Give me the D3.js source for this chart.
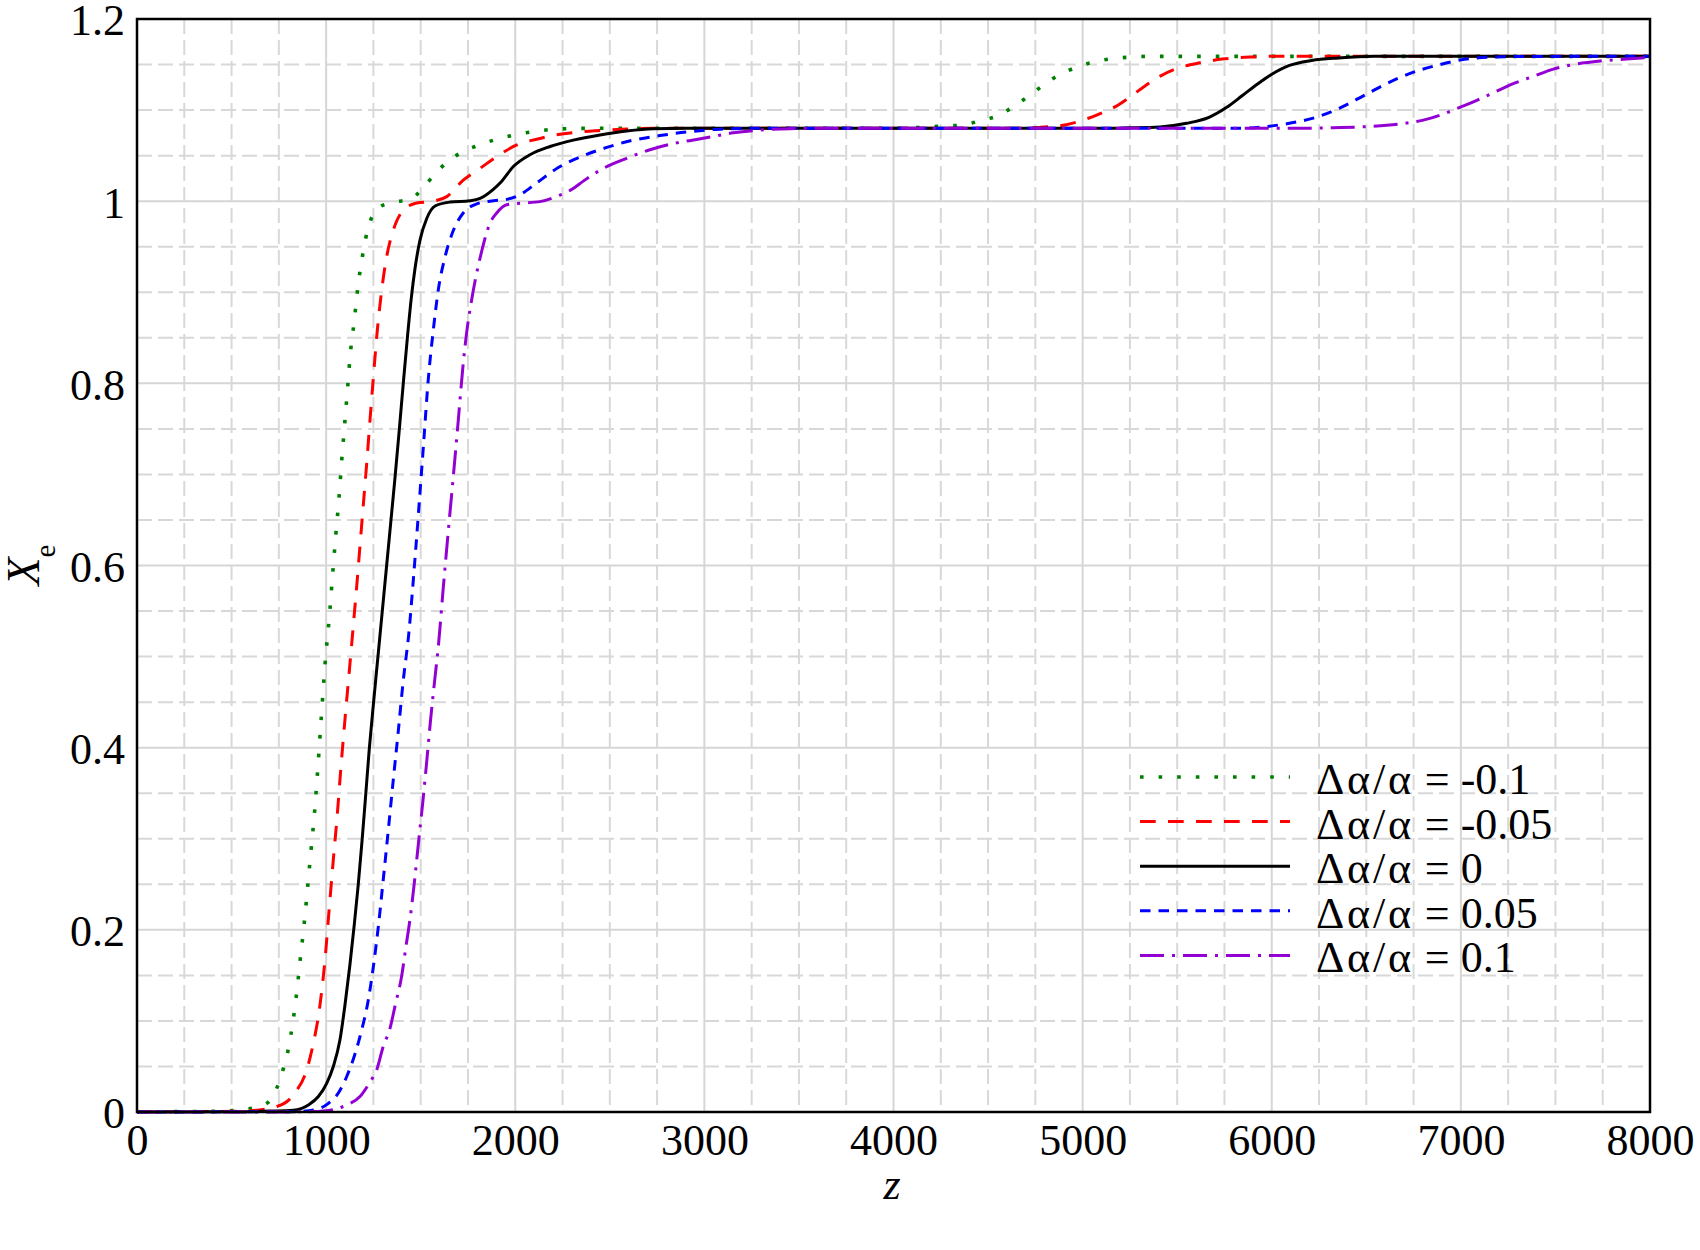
<!DOCTYPE html>
<html>
<head>
<meta charset="utf-8">
<script src="https://cdn.jsdelivr.net/npm/d3@7"></script>
<style>
  body { margin: 0; background: #fff; }
  svg text { font-family: "Liberation Serif", "Times New Roman", serif; fill: #000; }
</style>
</head>
<body>
<svg id="chart" width="1700" height="1250"></svg>
<script>
// ionization fraction X_e vs redshift z, for five values of da/a

const xTicks = [0, 1000, 2000, 3000, 4000, 5000, 6000, 7000, 8000]
const yTicks = [0, 0.2, 0.4, 0.6, 0.8, 1.0, 1.2]
const yTickLabels = ['0', '0.2', '0.4', '0.6', '0.8', '1', '1.2']

const seriesValues = ['-0.1', '-0.05', '0', '0.05', '0.1']

// [z, Xe]
const xeM010 = [[0,0.0003],[300,0.0005],[500,0.0015],[606,0.004],[686,0.0095],[739,0.026],[770,0.045],[795,0.064],[813,0.084],[841,0.125],[862,0.165],[883,0.205],[902,0.246],[920,0.287],[938,0.327],[953,0.368],[973,0.429],[994,0.491],[1020,0.551],[1035,0.592],[1051,0.633],[1068,0.674],[1082,0.714],[1098,0.755],[1114,0.796],[1130,0.837],[1142,0.857],[1153,0.877],[1163,0.897],[1175,0.917],[1190,0.937],[1207,0.957],[1232,0.977],[1278,0.993],[1359,0.999],[1445,1.002],[1514,1.015],[1572,1.029],[1634,1.042],[1703,1.052],[1800,1.061],[1940,1.07],[2029,1.074],[2117,1.077],[2210,1.079],[2400,1.08],[3000,1.08],[4000,1.08],[4150,1.081],[4272,1.0826],[4370,1.0837],[4459,1.0885],[4547,1.0935],[4629,1.103],[4712,1.115],[4790,1.127],[4870,1.138],[4955,1.146],[5042,1.152],[5137,1.156],[5238,1.158],[5361,1.159],[6000,1.159],[8000,1.159]]

const xeM005 = [[0,0.0002],[400,0.0005],[600,0.0015],[739,0.006],[835,0.021],[897,0.046],[932,0.075],[964,0.112],[994,0.167],[1017,0.225],[1038,0.277],[1056,0.319],[1077,0.375],[1100,0.432],[1123,0.485],[1142,0.53],[1162,0.578],[1180,0.624],[1198,0.67],[1215,0.713],[1232,0.76],[1250,0.807],[1271,0.859],[1294,0.9025],[1320,0.939],[1355,0.968],[1408,0.99],[1479,0.998],[1567,1.0],[1638,1.005],[1725,1.023],[1814,1.036],[1902,1.049],[2008,1.0617],[2113,1.068],[2219,1.073],[2342,1.076],[2448,1.0775],[2624,1.0795],[2800,1.08],[4600,1.08],[4771,1.081],[4913,1.084],[5031,1.091],[5113,1.098],[5184,1.105],[5255,1.115],[5326,1.126],[5408,1.137],[5503,1.146],[5621,1.152],[5739,1.156],[5857,1.158],[5998,1.159],[8000,1.159]]

const xe000 = [[0,0.0001],[500,0.0003],[700,0.001],[827,0.002],[906,0.0077],[959,0.017],[1003,0.0315],[1038,0.05],[1073,0.079],[1100,0.118],[1126,0.162],[1149,0.206],[1170,0.25],[1190,0.298],[1210,0.35],[1228,0.398],[1251,0.45],[1274,0.5],[1297,0.55],[1320,0.6],[1342,0.648],[1364,0.696],[1386,0.747],[1408,0.8],[1430,0.851],[1450,0.893],[1470,0.926],[1496,0.957],[1532,0.981],[1576,0.9947],[1655,0.999],[1761,1.0005],[1814,1.003],[1884,1.013],[1925,1.021],[1990,1.038],[2078,1.051],[2184,1.06],[2307,1.067],[2448,1.0727],[2589,1.077],[2730,1.0795],[2900,1.08],[5100,1.08],[5243,1.0805],[5408,1.0815],[5550,1.0855],[5668,1.092],[5762,1.103],[5845,1.116],[5927,1.129],[5998,1.139],[6093,1.149],[6211,1.1545],[6352,1.1573],[6541,1.1592],[8000,1.159]]

const xeP005 = [[0,0.0001],[700,0.0002],[844,0.0004],[950,0.003],[1012,0.0095],[1065,0.021],[1109,0.039],[1153,0.064],[1188,0.09],[1223,0.123],[1250,0.16],[1276,0.2035],[1302,0.255],[1329,0.31],[1355,0.3645],[1382,0.419],[1408,0.474],[1437,0.525],[1461,0.584],[1488,0.657],[1514,0.73],[1540,0.804],[1567,0.859],[1593,0.9025],[1629,0.939],[1673,0.968],[1725,0.987],[1796,0.997],[1884,1.0005],[1955,1.002],[2025,1.007],[2113,1.02],[2228,1.037],[2350,1.049],[2484,1.059],[2624,1.067],[2765,1.072],[2907,1.076],[3083,1.079],[3300,1.08],[5800,1.08],[5951,1.0815],[6093,1.0855],[6234,1.092],[6356,1.102],[6470,1.114],[6569,1.125],[6669,1.135],[6784,1.144],[6890,1.15],[6995,1.155],[7137,1.158],[7300,1.1588],[7600,1.159],[8000,1.159]]

const xeP010 = [[0,0],[800,0.0001],[932,0.0005],[1020,0.002],[1109,0.0077],[1179,0.017],[1232,0.033],[1267,0.046],[1302,0.072],[1338,0.092],[1364,0.116],[1400,0.15],[1422,0.1815],[1443,0.211],[1466,0.251],[1488,0.295],[1511,0.34],[1532,0.385],[1552,0.43],[1573,0.472],[1595,0.515],[1620,0.577],[1646,0.638],[1673,0.699],[1699,0.76],[1725,0.822],[1747,0.862],[1764,0.885],[1792,0.917],[1822,0.9445],[1866,0.9757],[1902,0.987],[1955,0.996],[2025,0.9977],[2131,0.9995],[2228,1.006],[2300,1.013],[2360,1.022],[2466,1.036],[2589,1.047],[2721,1.057],[2854,1.064],[2994,1.069],[3153,1.075],[3294,1.078],[3453,1.0796],[3650,1.08],[6150,1.08],[6325,1.0807],[6502,1.0818],[6678,1.0848],[6801,1.089],[6907,1.0957],[6995,1.103],[7066,1.109],[7171,1.119],[7277,1.129],[7383,1.137],[7489,1.145],[7595,1.15],[7736,1.1539],[7877,1.156],[8000,1.158]]

const series = [xeM010, xeM005, xe000, xeP005, xeP010]
const colors = ['#008000', '#ff0000', '#000000', '#0000ff', '#9400d3']
const dashes = ['3.6,15', '15.7,12.3', null, '10.5,8', '24,8,3,8']
const widths = [3.6, 3, 3, 3, 3]

const margin = {left: 137, top: 19, right: 50, bottom: 138}
const width = 1700 - margin.left - margin.right
const height = 1250 - margin.top - margin.bottom
const fontSize = 44

const svg = d3.select('#chart')
svg.append('rect').attr('width', 1700).attr('height', 1250).attr('fill', '#fff')

const chart = svg.append('g')
    .attr('transform', `translate(${margin.left}, ${margin.top})`)

const xScale = d3.scaleLinear().domain([0, 8000]).range([0, width])
const yScale = d3.scaleLinear().domain([0, 1.2]).range([height, 0])

// grid: dashed minor lines, solid major lines
const xMinor = d3.range(250, 8000, 250).filter(d => d % 1000 !== 0)
const yMinor = d3.range(1, 24).map(d => d * 0.05).filter((d, i) => (i + 1) % 4 !== 0)

const grid = chart.append('g').attr('class', 'grid')
grid.selectAll('.vminor').data(xMinor).join('line')
  .attr('x1', d => xScale(d)).attr('x2', d => xScale(d))
  .attr('y1', 0).attr('y2', height)
  .attr('stroke', '#d8d8d8').attr('stroke-width', 2).attr('stroke-dasharray', '15,6')
grid.selectAll('.hminor').data(yMinor).join('line')
  .attr('y1', d => yScale(d)).attr('y2', d => yScale(d))
  .attr('x1', 0).attr('x2', width)
  .attr('stroke', '#d8d8d8').attr('stroke-width', 2).attr('stroke-dasharray', '15,6')
grid.selectAll('.vmajor').data(xTicks.slice(1, -1)).join('line')
  .attr('x1', d => xScale(d)).attr('x2', d => xScale(d))
  .attr('y1', 0).attr('y2', height)
  .attr('stroke', '#d6d6d6').attr('stroke-width', 2)
grid.selectAll('.hmajor').data(yTicks.slice(1, -1)).join('line')
  .attr('y1', d => yScale(d)).attr('y2', d => yScale(d))
  .attr('x1', 0).attr('x2', width)
  .attr('stroke', '#d6d6d6').attr('stroke-width', 2)

// curves
const line = d3.line()
  .x(d => xScale(d[0]))
  .y(d => yScale(d[1]))
  .curve(d3.curveMonotoneX)

series.forEach((s, i) => {
  chart.append('path')
    .datum(s)
    .attr('fill', 'none')
    .attr('stroke', colors[i])
    .attr('stroke-width', widths[i])
    .attr('stroke-dasharray', dashes[i])
    .attr('d', line)
})

// frame
chart.append('rect')
  .attr('width', width).attr('height', height)
  .attr('fill', 'none').attr('stroke', '#000').attr('stroke-width', 2.5)

// axes (labels only)
const xAxis = chart.append('g')
  .attr('transform', `translate(0, ${height})`)
  .call(d3.axisBottom(xScale).tickValues(xTicks).tickSize(0).tickPadding(12).tickFormat(d3.format('d')))
xAxis.select('.domain').remove()
xAxis.selectAll('text').style('font-size', fontSize + 'px')

const yAxis = chart.append('g')
  .call(d3.axisLeft(yScale).tickValues(yTicks).tickSize(0).tickPadding(12)
    .tickFormat((d, i) => yTickLabels[i]))
yAxis.select('.domain').remove()
yAxis.selectAll('text').style('font-size', fontSize + 'px').attr('dy', '0.36em')

svg.append('text')
  .attr('x', 892).attr('y', 1199)
  .attr('text-anchor', 'middle')
  .style('font-size', '44px').style('font-style', 'italic')
  .text('z')

const yLabel = svg.append('text')
  .attr('transform', 'translate(39, 565) rotate(-90)')
  .attr('text-anchor', 'middle')
yLabel.append('tspan').style('font-size', '46px').style('font-style', 'italic').text('X')
yLabel.append('tspan').style('font-size', '29px').attr('dy', 16).text('e')

// legend
const legend = svg.append('g').attr('transform', 'translate(1140, 777)')
seriesValues.forEach((v, i) => {
  const row = legend.append('g').attr('transform', `translate(0, ${i * 44.6})`)
  row.append('line')
    .attr('x1', 0).attr('x2', 150).attr('y1', 0).attr('y2', 0)
    .attr('stroke', colors[i]).attr('stroke-width', widths[i])
    .attr('stroke-dasharray', dashes[i])
  const t = row.append('text')
    .attr('x', 176).attr('y', 17)
    .style('font-size', fontSize + 'px')
  t.append('tspan').style('letter-spacing', '2.8px').text('Δα/α')
  t.append('tspan').text(' = ' + v)
})
</script>
</body>
</html>
